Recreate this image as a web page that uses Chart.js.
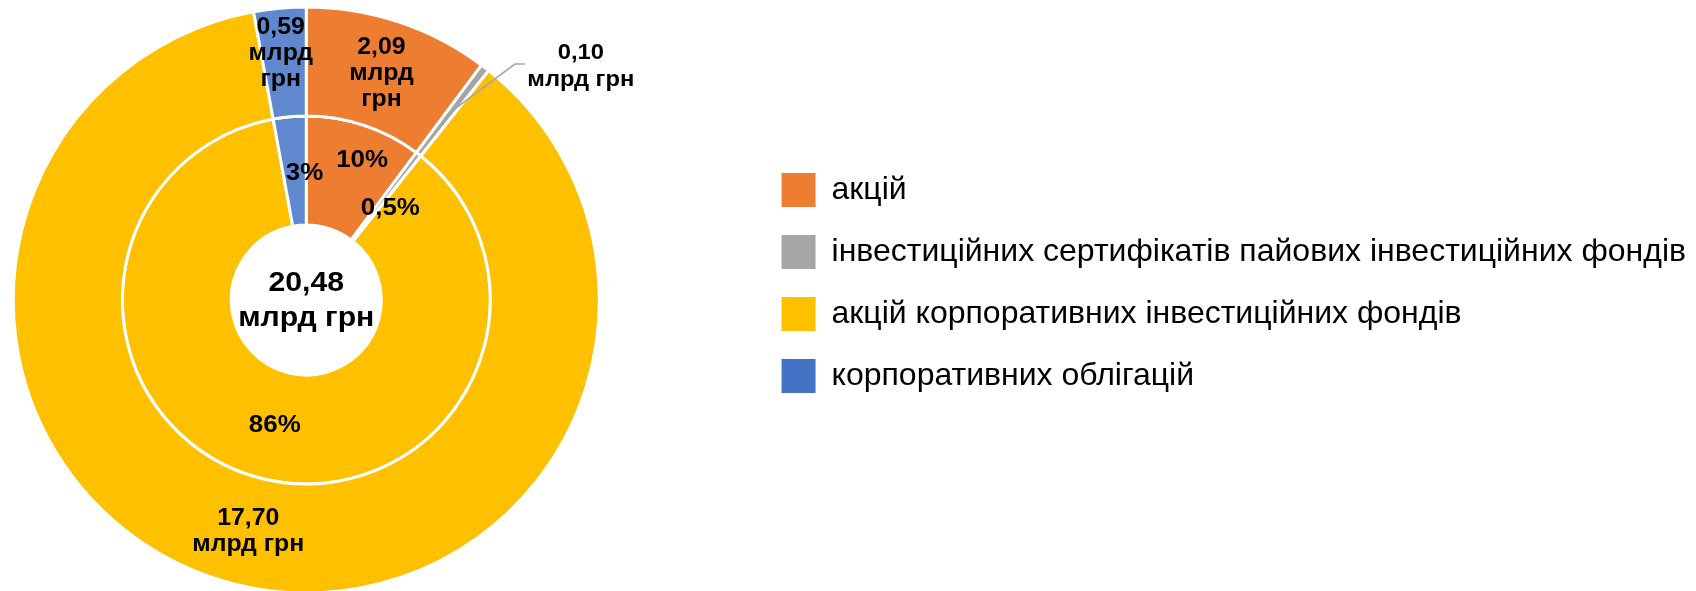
<!DOCTYPE html>
<html>
<head>
<meta charset="utf-8">
<script src="https://cdn.jsdelivr.net/npm/chart.js@4.4.1/dist/chart.umd.min.js"></script>
<style>
  html, body { margin: 0; padding: 0; background: #fff; }
</style>
</head>
<body>
<canvas id="myChart" width="1696" height="591"></canvas>
<script>
const categories = [
  'акцій',
  'інвестиційних сертифікатів пайових інвестиційних фондів',
  'акцій корпоративних інвестиційних фондів',
  'корпоративних облігацій'
];
const amounts = [2.09, 0.10, 17.70, 0.59]; // млрд грн
const unitText = 'млрд грн';
const sliceColors = ['#ED7D31', '#A5A5A5', '#FFC000', '#5F88CF'];
const legendColors = ['#ED7D31', '#A5A5A5', '#FFC000', '#4472C4'];

const total = amounts.reduce((a, b) => a + b, 0);
const fmt = (v, d) => v.toFixed(d).replace('.', ',');
const pctText = v => {
  const p = v / total * 100;
  return (p < 1 ? fmt(p, 1) : fmt(p, 0)) + '%';
};

const FONT = '"Liberation Sans", Arial, sans-serif';
const STRETCH = 1.08; // labels in the original are a bit wide

// empty box between the doughnut and the legend
const legendGap = {
  id: 'legendGap',
  beforeInit(chart) {
    Chart.layouts.addBox(chart, {
      position: 'right', weight: 0, fullSize: false, options: {},
      isHorizontal() { return false; },
      update(maxWidth, maxHeight) { this.width = 141; this.height = maxHeight; },
      draw() {}
    });
  }
};

function wideText(ctx, t, x, y) {
  ctx.save();
  ctx.translate(x, y);
  ctx.scale(STRETCH, 1);
  ctx.fillText(t, 0, 0);
  ctx.restore();
}

// labels inside the rings + the total in the hole
const ringLabels = {
  id: 'ringLabels',
  afterDatasetsDraw(chart, args, opts) {
    const ctx = chart.ctx;
    ctx.save();
    ctx.fillStyle = '#000';
    ctx.textAlign = 'center';
    ctx.textBaseline = 'middle';
    let cx = 0, cy = 0;
    chart.data.datasets.forEach((ds, di) => {
      const meta = chart.getDatasetMeta(di);
      meta.data.forEach((arc, i) => {
        const p = arc.getProps(['x', 'y', 'startAngle', 'endAngle', 'innerRadius', 'outerRadius'], true);
        cx = p.x; cy = p.y;
        const mid = (p.startAngle + p.endAngle) / 2;
        const r = (p.innerRadius + p.outerRadius) / 2;
        const nd = (opts.nudge[di] || {})[i] || [0, 0];
        let px = p.x + Math.cos(mid) * r + nd[0];
        let py = p.y + Math.sin(mid) * r + nd[1];
        const span = p.endAngle - p.startAngle;
        if (di === 0) {
          const val = fmt(ds.data[i], 2);
          let lines, lh = 26;
          ctx.font = 'bold 23px ' + FONT;
          if (span < 0.05) {
            const ex = px + opts.leader[0], ey = py + opts.leader[1];
            ctx.strokeStyle = '#A5A5A5';
            ctx.lineWidth = 1.5;
            ctx.beginPath();
            ctx.moveTo(px, py);
            ctx.lineTo(ex, ey);
            ctx.lineTo(ex + 10, ey);
            ctx.stroke();
            px = ex + 66;
            py = ey + 2;
            lh = 27;
            ctx.font = 'bold 22px ' + FONT;
            lines = [val, unitText];
          } else if (span < 0.7) {
            lines = [val, 'млрд', 'грн'];
          } else {
            lines = [val, unitText];
          }
          lines.forEach((t, k) => wideText(ctx, t, px, py + (k - (lines.length - 1) / 2) * lh));
        } else {
          ctx.font = 'bold 24px ' + FONT;
          wideText(ctx, pctText(ds.data[i]), px, py);
        }
      });
    });
    ctx.font = 'bold 28px ' + FONT;
    wideText(ctx, fmt(total, 2), cx, cy - 17);
    wideText(ctx, unitText, cx, cy + 18);
    ctx.restore();
  }
};

new Chart('myChart', {
  type: 'doughnut',
  data: {
    labels: categories,
    datasets: [
      { data: amounts, backgroundColor: sliceColors, borderColor: '#fff', borderWidth: 3 },
      { data: amounts, backgroundColor: sliceColors, borderColor: '#fff', borderWidth: 3 }
    ]
  },
  options: {
    responsive: false,
    animation: false,
    events: [],
    radius: 293,
    cutout: '25.6%',
    clip: false,
    layout: { padding: { top: 9, bottom: 0, left: 0, right: 0 } },
    plugins: {
      tooltip: { enabled: false },
      legend: {
        position: 'right',
        align: 'start',
        maxWidth: 1100,
        title: { display: true, text: '', padding: { top: 0, bottom: 121.6 } },
        labels: {
          boxWidth: 34,
          boxHeight: 34,
          padding: 28,
          color: '#000',
          font: { family: FONT, size: 32 },
          generateLabels: () => categories.map((c, i) => ({
            text: c, fillStyle: legendColors[i], strokeStyle: legendColors[i],
            lineWidth: 0, hidden: false, index: i, fontColor: '#000'
          }))
        }
      },
      ringLabels: {
        nudge: { 0: { 3: [-4, -9] }, 1: { 0: [15, -17], 1: [5, 11], 3: [10, 2] } },
        leader: [63, -47]
      }
    }
  },
  plugins: [legendGap, ringLabels]
});
</script>
</body>
</html>
